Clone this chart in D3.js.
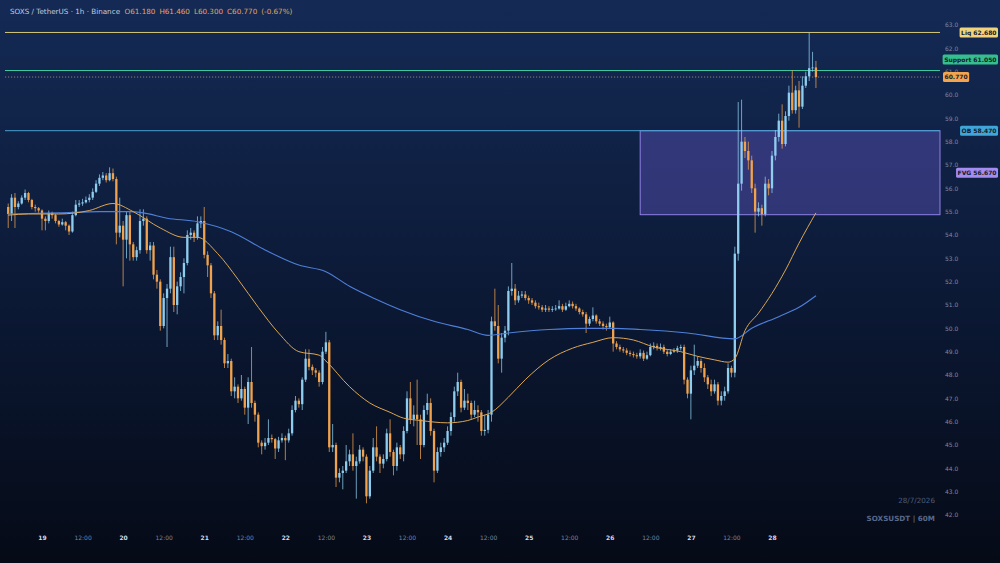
<!DOCTYPE html>
<html>
<head>
<meta charset="utf-8">
<script src="https://cdn.jsdelivr.net/npm/d3@7"></script>
<style>
html, body { margin: 0; padding: 0; background: #0a1428; }
svg { display: block; font-family: "DejaVu Sans", sans-serif; }
</style>
</head>
<body>
<svg id="chart" width="1000" height="563"></svg>
<script>
// SOXS/USDT 1h candles, 18 Jul 14:00 -> 28 Jul 13:00 (open = previous close)
const firstOpen = 55.2;
const closes = [
  54.9, 55.6, 55.2, 55.35, 55.6, 55.8, 55.5, 55.2, 55.15, 55.05,
  54.7, 54.6, 54.95, 54.85, 54.6, 54.45, 54.55, 54.4, 54.15, 54.85,
  55.3, 55.35, 55.4, 55.5, 55.6, 55.85, 56.2, 56.45, 56.55, 56.35,
  56.65, 56.4, 54.1, 54.4, 53.8, 54.85, 53.6, 53.05, 53.35, 54.6,
  54.7, 53.35, 53.55, 52.3, 52.0, 50.1, 51.3, 51.7, 53.05, 51.0,
  51.8, 52.2, 52.8, 54.0, 54.1, 53.9, 54.5, 54.6, 53.15, 52.7,
  51.5, 49.7, 50.1, 49.5, 48.5, 48.6, 47.3, 47.5, 47.0, 47.4,
  46.6, 47.7, 46.8, 46.3, 45.1, 44.95, 45.1, 45.3, 45.25, 44.85,
  45.2, 45.3, 45.2, 45.5, 46.5, 46.9, 46.75, 47.8, 48.7, 48.35,
  48.2, 48.1, 47.7, 49.0, 49.4, 44.9, 45.0, 43.6, 43.8, 43.9,
  44.3, 44.6, 44.1, 44.3, 44.8, 44.5, 42.8, 43.9, 44.9, 44.5,
  44.2, 44.4, 45.5, 44.7, 44.1, 44.9, 44.6, 45.6, 47.0, 46.1,
  46.3, 46.1, 45.0, 46.5, 46.8, 45.6, 43.9, 44.7, 44.9, 45.1,
  45.6, 46.2, 47.3, 47.7, 46.6, 46.9, 46.8, 46.3, 46.5, 46.4,
  45.6, 45.65, 46.3, 50.3, 50.1, 48.7, 49.6, 49.9, 51.6, 51.7,
  51.2, 51.4, 51.45, 51.3, 51.2, 51.1, 50.95, 50.9, 50.8, 50.85,
  50.8, 50.82, 50.85, 50.95, 50.8, 50.95, 51.05, 50.95, 50.85, 50.7,
  50.6, 50.2, 50.4, 50.55, 50.3, 50.2, 50.1, 50.05, 50.25, 49.35,
  49.2, 49.1, 49.05, 48.95, 48.9, 48.85, 48.8, 48.95, 48.7, 48.85,
  49.2, 49.25, 49.15, 49.2, 49.0, 48.9, 49.0, 49.05, 49.15, 49.2,
  47.8, 47.2, 48.2, 48.4, 48.6, 48.3, 47.9, 47.6, 47.3, 47.6,
  46.9, 47.1, 47.3, 48.3, 48.1, 53.2, 56.2, 58.0, 57.6, 57.2,
  56.0, 55.0, 55.15, 54.9, 56.2, 56.0, 57.4, 58.2, 58.9, 57.9,
  59.1, 60.1, 59.35, 60.2, 59.5, 60.4, 60.8, 61.15, 61.18, 60.77
];
const highs = [
  55.35, 55.75, 55.8, 55.45, 55.7, 55.95, 55.85, 55.55, 55.3, 55.2,
  55.1, 54.8, 55.05, 55.0, 54.9, 54.65, 54.7, 54.6, 54.45, 55.0,
  55.5, 55.5, 55.55, 55.65, 55.75, 56.0, 56.35, 56.6, 56.7, 56.65,
  56.9, 56.85, 56.5, 55.6, 54.6, 55.0, 55.0, 53.7, 53.5, 55.1,
  55.1, 54.8, 53.7, 53.7, 52.5, 52.1, 51.5, 51.9, 53.5, 53.5,
  52.0, 52.4, 53.0, 54.2, 54.3, 54.2, 54.8, 54.8, 55.2, 53.3,
  52.8, 51.6, 50.3, 50.8, 49.6, 48.9, 48.7, 47.9, 47.6, 48.0,
  47.5, 47.9, 49.2, 46.9, 46.4, 45.2, 45.3, 46.1, 45.45, 45.3,
  45.35, 45.5, 45.4, 45.7, 46.7, 47.1, 47.0, 47.9, 49.1, 49.1,
  48.45, 48.3, 48.2, 49.2, 49.85, 49.5, 45.9, 45.1, 44.0, 44.1,
  45.0, 44.8, 45.5, 44.5, 45.0, 44.9, 44.6, 44.1, 45.3, 45.8,
  44.6, 44.6, 45.7, 46.1, 44.8, 45.1, 45.0, 45.8, 47.3, 47.7,
  46.7, 47.8, 46.3, 46.7, 47.2, 47.0, 45.7, 44.9, 45.1, 45.3,
  45.8, 46.4, 47.5, 48.1, 47.8, 47.4, 47.2, 46.9, 46.9, 46.7,
  46.5, 46.3, 46.5, 50.5, 51.7, 51.0, 49.8, 50.1, 51.8, 52.8,
  51.9, 51.6, 51.6, 51.6, 51.4, 51.3, 51.2, 51.1, 51.0, 51.0,
  50.95, 50.95, 51.0, 51.2, 51.05, 51.1, 51.2, 51.15, 51.05, 50.9,
  50.8, 50.7, 50.5, 50.9, 50.6, 50.4, 50.3, 50.2, 50.5, 50.3,
  49.45, 49.3, 49.2, 49.15, 49.05, 49.0, 48.95, 49.1, 49.05, 49.0,
  49.35, 49.4, 49.35, 49.35, 49.3, 49.1, 49.1, 49.15, 49.25, 49.3,
  49.3, 47.9, 48.4, 49.3, 48.8, 48.7, 48.5, 48.0, 47.8, 47.8,
  47.7, 47.3, 47.5, 48.5, 48.4, 53.5, 59.7, 59.8, 58.2, 58.0,
  57.4, 56.2, 55.4, 55.3, 56.5, 56.4, 57.6, 58.5, 59.2, 59.6,
  59.3, 60.4, 61.07, 60.4, 60.6, 60.8, 61.0, 62.7, 61.85, 61.46
];
const lows = [
  54.3, 54.6, 54.3, 55.1, 55.3, 55.5, 55.4, 55.1, 55.0, 54.95,
  54.2, 54.2, 54.5, 54.7, 54.5, 54.35, 54.4, 54.2, 54.0, 54.1,
  54.8, 55.2, 55.25, 55.35, 55.4, 55.5, 55.8, 56.1, 56.35, 56.25,
  56.3, 56.3, 53.6, 53.9, 51.8, 53.0, 52.9, 52.9, 52.9, 53.2,
  54.4, 53.2, 52.9, 52.1, 51.7, 49.9, 50.0, 49.2, 51.5, 50.7,
  50.6, 51.6, 51.5, 52.7, 53.8, 53.7, 53.8, 54.3, 53.0, 52.2,
  51.3, 49.5, 49.5, 49.3, 48.3, 48.3, 47.1, 47.0, 46.8, 46.9,
  46.3, 45.9, 46.6, 46.0, 44.9, 44.6, 44.8, 45.0, 45.1, 44.4,
  44.7, 45.1, 44.35, 45.1, 45.4, 46.4, 46.6, 46.5, 47.7, 48.2,
  48.0, 47.9, 47.5, 47.6, 48.9, 44.7, 44.7, 43.2, 43.4, 43.1,
  43.8, 44.1, 43.9, 42.7, 44.2, 44.3, 42.5, 42.7, 43.8, 44.3,
  43.8, 44.0, 44.3, 44.5, 43.7, 43.9, 44.4, 44.3, 45.5, 45.9,
  45.8, 45.0, 44.4, 44.9, 46.3, 45.4, 43.4, 43.8, 44.5, 44.7,
  45.0, 45.4, 46.0, 47.1, 46.4, 46.5, 46.5, 46.1, 46.2, 46.0,
  45.4, 45.4, 45.5, 46.0, 49.9, 48.5, 48.1, 49.4, 49.7, 51.4,
  51.0, 51.1, 51.3, 51.2, 51.05, 51.0, 50.85, 50.8, 50.7, 50.7,
  50.7, 50.7, 50.75, 50.8, 50.7, 50.75, 50.9, 50.85, 50.75, 50.6,
  50.5, 49.8, 50.1, 50.3, 50.2, 50.1, 49.95, 49.9, 50.0, 49.0,
  49.1, 49.0, 48.95, 48.85, 48.8, 48.75, 48.7, 48.7, 48.6, 48.65,
  48.8, 49.1, 49.05, 49.05, 48.9, 48.8, 48.85, 48.95, 48.95, 49.05,
  47.6, 47.0, 46.1, 48.0, 48.3, 48.1, 47.7, 47.4, 47.1, 47.2,
  46.7, 46.7, 46.9, 47.2, 47.9, 47.9, 52.9, 55.9, 57.3, 56.8,
  55.8, 54.1, 54.8, 54.4, 54.8, 55.7, 55.8, 57.2, 58.0, 57.7,
  57.8, 58.9, 59.2, 59.2, 58.6, 59.4, 60.3, 60.6, 61.0, 60.30
];

// moving averages, read at candle indices
const maIndex = [0, 6, 15, 24, 31, 37, 45, 52, 56, 62, 68, 74, 80, 86, 92, 94, 101, 107, 113, 117,
  122, 130, 136, 139, 143, 148, 153, 160, 167, 173, 179, 185, 191, 199, 204, 209, 213, 215, 218, 222,
  226, 230, 234, 239];
const maFast = [54.85, 54.9, 54.9, 55.05, 55.35, 55.0, 54.3, 53.9, 53.9, 53.2, 52.1, 50.9, 49.8, 49.0, 48.85, 48.6, 47.5, 46.8, 46.4, 46.15,
  46.05, 45.95, 46.05, 46.2, 46.4, 47.05, 47.8, 48.65, 49.15, 49.4, 49.6, 49.5, 49.2, 49.0, 48.8, 48.65, 48.55, 48.7, 49.9, 50.65,
  51.5, 52.5, 53.65, 54.95];
const slowIndex = [0, 15, 27, 36, 40, 47, 56, 66, 76, 86, 94, 101, 108, 116, 126, 136, 142, 148,
  160, 171, 179, 187, 201, 215, 220, 228, 234, 239];
const maSlow = [54.9, 54.95, 55.0, 55.0, 54.95, 54.72, 54.57, 54.14, 53.36, 52.71, 52.43, 51.8, 51.3, 50.8, 50.3, 49.95, 49.7, 49.8,
  49.95, 50.0, 50.0, 49.95, 49.8, 49.55, 50.0, 50.5, 50.9, 51.4];

// levels
const liqLevel = 62.68;
const supportLevel = 61.05;
const lastPrice = 60.77;
const obLevel = 58.47;
const fvgTop = 58.47;
const fvgBottom = 54.87;
const fvgMid = 56.67;
const fvgStart = new Date(2026, 6, 26, 9);

const yTicks = d3.range(42, 63.01, 1);

const svg = d3.select('#chart');
const W = 1000, H = 563;
const plotLeft = 5, plotRight = 940;

// background gradient
const defs = svg.append('defs');
const grad = defs.append('linearGradient')
    .attr('id', 'bg').attr('x1', 0).attr('y1', 0).attr('x2', 0).attr('y2', 1);
grad.append('stop').attr('offset', '0%').attr('stop-color', '#142a55');
grad.append('stop').attr('offset', '50%').attr('stop-color', '#0c1a37');
grad.append('stop').attr('offset', '100%').attr('stop-color', '#050a16');
svg.append('rect').attr('width', W).attr('height', H).attr('fill', 'url(#bg)');

const start = new Date(2026, 6, 18, 14);
const candles = closes.map((c, i) => ({
    t: d3.timeHour.offset(start, i),
    o: i ? closes[i - 1] : firstOpen,
    h: highs[i],
    l: lows[i],
    c: c
}));

var x = d3.scaleTime()
    .domain([new Date(2026, 6, 19), new Date(2026, 6, 28)])
    .range([42, 772]);
var y = d3.scaleLinear()
    .domain([42, 63])
    .range([515, 25]);

// FVG box
svg.append('rect')
    .attr('x', x(fvgStart))
    .attr('y', y(fvgTop))
    .attr('width', plotRight - x(fvgStart))
    .attr('height', y(fvgBottom) - y(fvgTop))
    .attr('fill', '#6a5bd0')
    .attr('fill-opacity', 0.38)
    .attr('stroke', '#8f80e6')
    .attr('stroke-width', 1);

// level lines
function hline(v, color, dash) {
    svg.append('line')
        .attr('x1', plotLeft).attr('x2', plotRight)
        .attr('y1', y(v)).attr('y2', y(v))
        .attr('stroke', color)
        .attr('stroke-width', 1)
        .attr('stroke-dasharray', dash || null);
}
hline(liqLevel, '#d8c77a');
hline(supportLevel, '#3cc9a0');
hline(lastPrice, '#8c7d74', '1.2,1.8');
hline(obLevel, '#4a9fcf');

// candles
const up = '#8fcdee', down = '#f0a24c';
const cg = svg.append('g');
cg.selectAll('line.wick')
    .data(candles)
    .enter().append('line')
    .attr('class', 'wick')
    .attr('x1', d => x(d.t)).attr('x2', d => x(d.t))
    .attr('y1', d => y(d.h)).attr('y2', d => y(d.l))
    .attr('stroke', d => d.c >= d.o ? up : down)
    .attr('stroke-opacity', 0.75)
    .attr('stroke-width', 1);
cg.selectAll('rect.body')
    .data(candles)
    .enter().append('rect')
    .attr('class', 'body')
    .attr('x', d => x(d.t) - 1.15)
    .attr('width', 2.3)
    .attr('y', d => y(Math.max(d.o, d.c)))
    .attr('height', d => Math.max(0.8, Math.abs(y(d.o) - y(d.c))))
    .attr('fill', d => d.c >= d.o ? up : down);

// moving averages
const maLine = d3.line()
    .x(d => x(d[0]))
    .y(d => y(d[1]))
    .curve(d3.curveMonotoneX);
svg.append('path')
    .attr('d', maLine(slowIndex.map((k, i) => [candles[k].t, maSlow[i]])))
    .attr('fill', 'none').attr('stroke', '#4f7fd8').attr('stroke-width', 1.1);
svg.append('path')
    .attr('d', maLine(maIndex.map((k, i) => [candles[k].t, maFast[i]])))
    .attr('fill', 'none').attr('stroke', '#dca653').attr('stroke-width', 1);

// right price axis
const yAxis = d3.axisRight(y)
    .tickValues(yTicks)
    .tickFormat(d3.format('.1f'))
    .tickSize(0)
    .tickPadding(0);
const yg = svg.append('g')
    .attr('transform', 'translate(945,0)')
    .call(yAxis);
yg.select('.domain').remove();
yg.selectAll('text')
    .attr('fill', '#7d89a3')
    .attr('font-size', 6)
    .attr('font-family', '"DejaVu Sans", sans-serif');

// bottom time axis
const xTicks = d3.range(0, 19).map(k => d3.timeHour.offset(new Date(2026, 6, 19), 12 * k));
const xAxis = d3.axisBottom(x)
    .tickValues(xTicks)
    .tickFormat(d => d.getHours() === 0 ? d3.timeFormat('%-d')(d) : '12:00')
    .tickSize(0)
    .tickPadding(3);
const xg = svg.append('g')
    .attr('transform', 'translate(0,533)')
    .call(xAxis);
xg.select('.domain').remove();
xg.selectAll('text')
    .attr('font-size', 6)
    .attr('font-family', '"DejaVu Sans", sans-serif')
    .attr('font-weight', d => d.getHours() === 0 ? 'bold' : 'normal')
    .attr('fill', d => d.getHours() === 0 ? '#d3daea' : '#7584a0');

// price tags (shift moves a tag off a neighbour)
function tag(v, label, bg, alignLeft, shift) {
    const cy = y(v) + (shift || 0);
    const g = svg.append('g');
    const t = g.append('text')
        .attr('y', cy)
        .attr('dy', '0.35em')
        .attr('font-size', 6)
        .attr('font-weight', 'bold')
        .attr('fill', '#141a28')
        .text(label);
    const w = t.node().getComputedTextLength() + 3;
    const x0 = alignLeft ? 943 : 998 - w;
    t.attr('x', x0 + 1.5);
    g.insert('rect', 'text')
        .attr('x', x0).attr('y', cy - 5)
        .attr('width', w).attr('height', 10)
        .attr('rx', 1.5)
        .attr('fill', bg);
}
tag(liqLevel, 'Liq 62.680', '#f0d37a');
tag(supportLevel, 'Support 61.050', '#35bf8e', false, -11);
tag(lastPrice, '60.770', '#f4a44e', true);
tag(obLevel, 'OB 58.470', '#3ea6d9');
tag(fvgMid, 'FVG 56.670', '#a58cf0');

// header
const head = svg.append('text')
    .attr('x', 10).attr('y', 14)
    .attr('font-size', 7.2)
    .attr('fill', '#c3cbdd');
head.append('tspan').text('SOXS / TetherUS · 1h · Binance');
['O61.180', 'H61.460', 'L60.300', 'C60.770', '(-0.67%)'].forEach((s, i) => {
    head.append('tspan')
        .attr('dx', i ? 4 : 4.5)
        .attr('fill', '#e6a55c')
        .text(s);
});

// watermark
svg.append('text')
    .attr('x', 935).attr('y', 503)
    .attr('text-anchor', 'end')
    .attr('font-size', 7.2)
    .attr('fill', '#4c5d7d')
    .text('28/7/2026');
svg.append('text')
    .attr('x', 935).attr('y', 521)
    .attr('text-anchor', 'end')
    .attr('font-size', 7.2)
    .attr('font-weight', 'bold')
    .attr('fill', '#56698c')
    .text('SOXSUSDT | 60M');
</script>
</body>
</html>
